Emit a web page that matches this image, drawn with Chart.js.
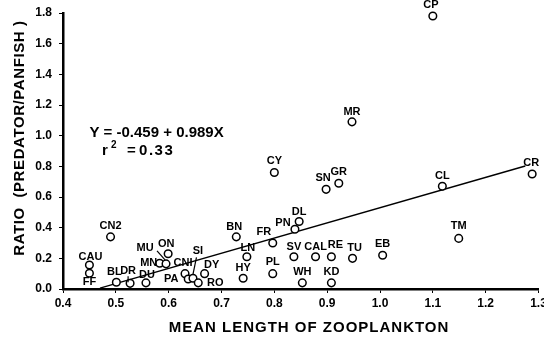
<!DOCTYPE html>
<html>
<head>
<meta charset="utf-8">
<script src="https://cdn.jsdelivr.net/npm/chart.js@4/dist/chart.umd.min.js"></script>
<style>
  html, body { margin: 0; padding: 0; background: #fff; }
  #wrap { width: 544px; height: 339px; position: relative; }
</style>
</head>
<body>
<div id="wrap"><canvas id="plot"></canvas></div>
<script>
// lake codes, mean zooplankton length, predator/panfish ratio
const codes   = ['CP','MR','CY','SN','GR','CL','CR','DL','PN','FR','TM','SV','CAL','RE','TU','EB','PL','WH','KD',
                 'CN2','CAU','FF','BL','DR','DU','MN','MU','ON','CNI','PA','SI','RO','DY','BN','LN','HY'];
const lengths = [1.10,0.947,0.80,0.898,0.922,1.118,1.288,0.847,0.839,0.797,1.149,0.837,0.878,0.908,0.948,1.005,0.797,0.853,0.908,
                 0.49,0.45,0.45,0.501,0.527,0.557,0.583,0.595,0.599,0.631,0.637,0.646,0.656,0.668,0.728,0.748,0.741];
const ratios  = [1.78,1.09,0.76,0.65,0.69,0.67,0.75,0.44,0.39,0.30,0.33,0.21,0.21,0.21,0.20,0.22,0.10,0.04,0.04,
                 0.34,0.157,0.103,0.044,0.037,0.04,0.168,0.164,0.23,0.10,0.065,0.07,0.04,0.10,0.34,0.21,0.07];

const fitIntercept = -0.459;
const fitSlope = 0.989;
const fitRange = [0.47, 1.275];

const xTicks = [0.4,0.5,0.6,0.7,0.8,0.9,1.0,1.1,1.2,1.3];
const yTicks = [0.0,0.2,0.4,0.6,0.8,1.0,1.2,1.4,1.6,1.8];

// label placement (px from the point), optional leader line
const labelPos = {
  CP:[-2,-11], MR:[0,-10], CY:[0,-11], SN:[-3,-11], GR:[0,-11], CL:[0,-10], CR:[-1,-11],
  DL:[0,-10], PN:[-12,-6], FR:[-9,-11], TM:[0,-12], SV:[0,-10], CAL:[0,-10], RE:[4,-12],
  TU:[2,-10], EB:[0,-11], PL:[0,-12], WH:[0,-11], KD:[0,-11], CN2:[0,-11], CAU:[1,-8],
  FF:[0,9], BL:[-2,-10], DR:[-2,-12,[-2,-7,-2,-1]], DU:[1,-8], MN:[-11,0],
  MU:[-21,-16,[-9,-13,-1,-4]], ON:[-2,-10], CNI:[-2,-11], PA:[-17,0],
  SI:[5,-27,[3.5,-21,0,-4]], RO:[17,0], DY:[7,-9], BN:[-2,-10], LN:[1,-9], HY:[0,-10]
};

const fitLine = fitRange.map(x => ({ x: x, y: fitIntercept + fitSlope * x }));

const textPlugin = {
  id: 'texts',
  afterDatasetsDraw(chart) {
    const ctx = chart.ctx;
    const xs = chart.scales.x, ys = chart.scales.y;
    ctx.save();
    ctx.fillStyle = '#000';
    ctx.strokeStyle = '#000';
    ctx.textAlign = 'center';
    ctx.textBaseline = 'middle';
    ctx.font = 'bold 11px "Liberation Sans", Arial, sans-serif';
    codes.forEach((c, i) => {
      const px = xs.getPixelForValue(lengths[i]);
      const py = ys.getPixelForValue(ratios[i]);
      const p = labelPos[c] || [0, -10];
      ctx.fillText(c, px + p[0], py + p[1]);
      if (p[2]) {
        ctx.lineWidth = 1.2;
        ctx.beginPath();
        ctx.moveTo(px + p[2][0], py + p[2][1]);
        ctx.lineTo(px + p[2][2], py + p[2][3]);
        ctx.stroke();
      }
    });

    // regression equation
    ctx.textAlign = 'left';
    ctx.font = 'bold 15px "Liberation Sans", Arial, sans-serif';
    ctx.fillText('Y = -0.459 + 0.989X', xs.getPixelForValue(0.45), ys.getPixelForValue(1.02));
    const rx = xs.getPixelForValue(0.474), ry = ys.getPixelForValue(0.90);
    ctx.fillText('r', rx, ry);
    ctx.fillText('=', rx + 25, ry);
    ctx.letterSpacing = '1.5px';
    ctx.fillText('0.33', rx + 37, ry);
    ctx.letterSpacing = '0px';
    ctx.font = 'bold 10px "Liberation Sans", Arial, sans-serif';
    ctx.fillText('2', rx + 9, ry - 6);

    // axis titles
    ctx.font = 'bold 15px "Liberation Sans", Arial, sans-serif';
    ctx.textAlign = 'center';
    ctx.letterSpacing = '1px';
    ctx.fillText('MEAN LENGTH OF ZOOPLANKTON', 309, 328);
    ctx.translate(20, 138);
    ctx.rotate(-Math.PI / 2);
    ctx.letterSpacing = '0.6px';
    ctx.fillText('RATIO  (PREDATOR/PANFISH )', 0, 0);
    ctx.restore();
  }
};

const tickFont = { family: '"Liberation Sans", Arial, sans-serif', size: 12, weight: 'bold' };

new Chart(document.getElementById('plot'), {
  type: 'scatter',
  data: {
    datasets: [
      {
        data: codes.map((c, i) => ({ x: lengths[i], y: ratios[i] })),
        pointStyle: 'circle',
        pointRadius: 3.8,
        pointBorderWidth: 1.5,
        pointBorderColor: '#000',
        pointBackgroundColor: '#fff',
        clip: false,
        order: 0
      },
      {
        type: 'line',
        data: fitLine,
        borderColor: '#000',
        borderWidth: 1.4,
        pointRadius: 0,
        fill: false,
        order: 1
      }
    ]
  },
  options: {
    responsive: true,
    maintainAspectRatio: false,
    animation: false,
    layout: { padding: { top: 13, right: 5, left: 0, bottom: 0 } },
    plugins: { legend: { display: false }, tooltip: { enabled: false } },
    scales: {
      x: {
        type: 'linear',
        min: 0.4,
        max: 1.3,
        afterBuildTicks: s => { s.ticks = xTicks.map(v => ({ value: v })); },
        afterFit: s => { s.height = 50; s.paddingRight = 0; s.paddingLeft = 0; },
        ticks: { color: '#000', font: tickFont, padding: 3, maxRotation: 0, callback: v => v.toFixed(1) },
        grid: { drawOnChartArea: false, drawTicks: true, tickLength: 4, color: '#000', lineWidth: 1 },
        border: { display: true, color: '#000', width: 2.5 }
      },
      y: {
        type: 'linear',
        min: 0,
        max: 1.8,
        afterBuildTicks: s => { s.ticks = yTicks.map(v => ({ value: v })); },
        afterFit: s => { s.width = 63; s.paddingTop = 0; },
        ticks: { color: '#000', font: tickFont, padding: 7, callback: v => v.toFixed(1) },
        grid: { drawOnChartArea: false, drawTicks: true, tickLength: 4, color: '#000', lineWidth: 1 },
        border: { display: true, color: '#000', width: 2.5 }
      }
    }
  },
  plugins: [textPlugin]
});
</script>
</body>
</html>
